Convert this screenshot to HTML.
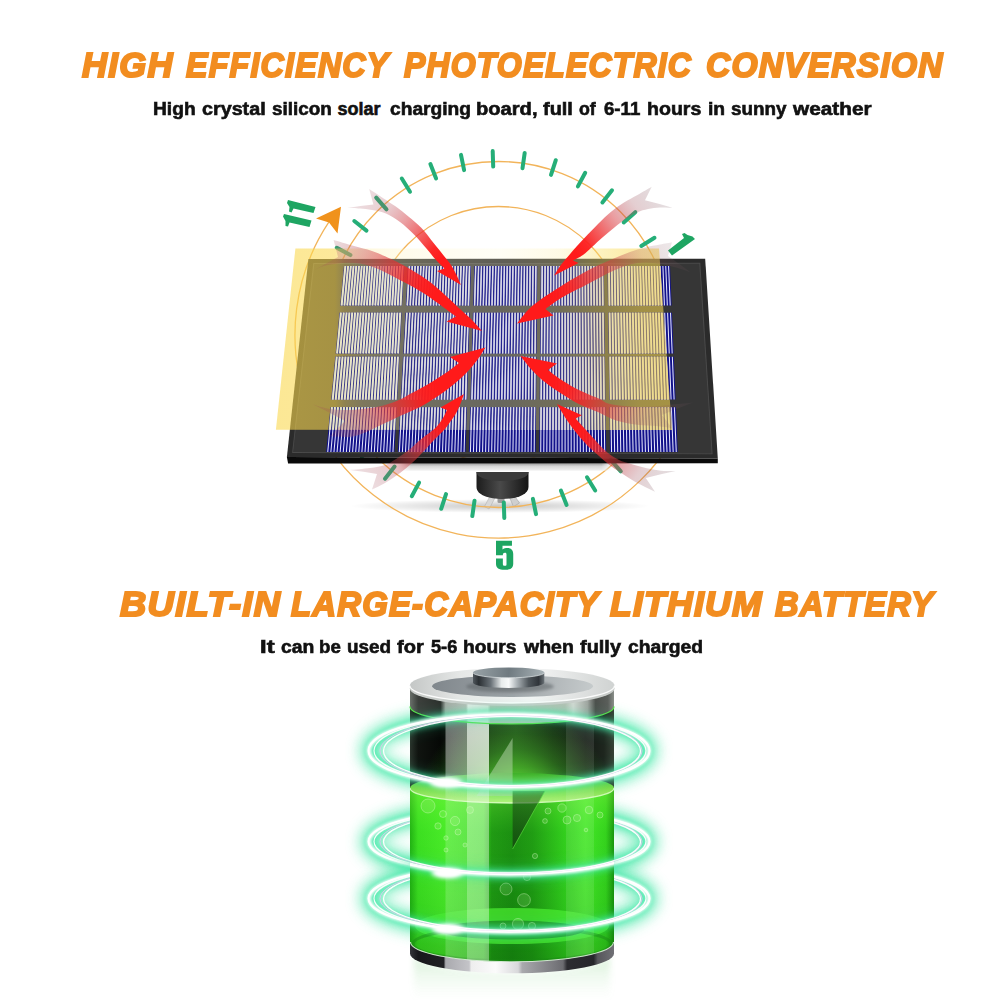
<!DOCTYPE html>
<html><head><meta charset="utf-8"><title>Solar</title>
<style>
html,body{margin:0;padding:0;background:#fff;}
body{width:1000px;height:1000px;position:relative;overflow:hidden;font-family:"Liberation Sans",sans-serif;}
.w{position:absolute;white-space:nowrap;transform-origin:0 0;line-height:normal;display:block;}
svg{position:absolute;left:0;top:0;}
</style></head><body>
<svg width="1000" height="1000" viewBox="0 0 1000 1000">
<defs>
<linearGradient id="yg" x1="276" y1="0" x2="672" y2="0" gradientUnits="userSpaceOnUse">
<stop offset="0" stop-color="#FAD84E" stop-opacity="0.6"/>
<stop offset="0.149" stop-color="#FAD84E" stop-opacity="0.57"/>
<stop offset="0.174" stop-color="#FBDF70" stop-opacity="0.45"/>
<stop offset="0.22" stop-color="#FDEBA0" stop-opacity="0.36"/>
<stop offset="0.313" stop-color="#FFF5BE" stop-opacity="0.31"/>
<stop offset="0.45" stop-color="#FFF8D0" stop-opacity="0.27"/>
<stop offset="0.566" stop-color="#FFFAD7" stop-opacity="0.25"/>
<stop offset="0.717" stop-color="#FDEFA8" stop-opacity="0.3"/>
<stop offset="0.818" stop-color="#FAE068" stop-opacity="0.42"/>
<stop offset="0.919" stop-color="#FAD955" stop-opacity="0.55"/>
<stop offset="1" stop-color="#FAD84E" stop-opacity="0.57"/>
</linearGradient>
<linearGradient id="ygB" x1="276" y1="0" x2="672" y2="0" gradientUnits="userSpaceOnUse">
<stop offset="0.15" stop-color="#E8E47E" stop-opacity="0.22"/>
<stop offset="0.36" stop-color="#ECECA0" stop-opacity="0.13"/>
<stop offset="0.566" stop-color="#F4F4C8" stop-opacity="0.08"/>
<stop offset="0.717" stop-color="#F6EA98" stop-opacity="0.16"/>
<stop offset="0.818" stop-color="#FAE068" stop-opacity="0.36"/>
<stop offset="0.919" stop-color="#FADA58" stop-opacity="0.54"/>
<stop offset="1" stop-color="#FAD84E" stop-opacity="0.57"/>
</linearGradient>
<radialGradient id="shad" cx="0.5" cy="0.5" r="0.5">
<stop offset="0" stop-color="#000" stop-opacity="0.22"/>
<stop offset="1" stop-color="#000" stop-opacity="0"/>
</radialGradient>
<linearGradient id="mountg" x1="0" y1="0" x2="1" y2="0">
<stop offset="0" stop-color="#1c1c1c"/>
<stop offset="0.45" stop-color="#4a4a4a"/>
<stop offset="1" stop-color="#141414"/>
</linearGradient>
<linearGradient id="barg" x1="0" y1="0" x2="0" y2="1">
<stop offset="0" stop-color="#9a9a9a"/>
<stop offset="0.4" stop-color="#d6d6d6"/>
<stop offset="1" stop-color="#f2f2f2"/>
</linearGradient>
<linearGradient id="barfade" x1="398" x2="612" y1="0" y2="0" gradientUnits="userSpaceOnUse">
<stop offset="0" stop-color="#000"/><stop offset="0.06" stop-color="#fff"/><stop offset="0.95" stop-color="#fff"/><stop offset="1" stop-color="#000"/>
</linearGradient>
<mask id="barmask" maskUnits="userSpaceOnUse" x="390" y="460" width="230" height="14"><rect x="390" y="460" width="230" height="14" fill="url(#barfade)"/></mask>
<clipPath id="litclip"><polygon points="295.4,248.5 659,248.5 672,430 275.9,429.8"/></clipPath>

</defs>
<g id="mount">
<!-- ground shadow -->
<ellipse cx="500" cy="506" rx="150" ry="7" fill="url(#shad)"/>
<!-- screws -->
<polygon points="489.5,497 495,498 489,509 484.5,506.5" fill="#d8d8d8" stroke="#aaa" stroke-width="0.5"/>
<rect x="497.5" y="497" width="7" height="6" rx="1.5" fill="#9a9a9a"/>
<polygon points="509.5,497.5 515,496.5 519.5,503 513.5,506.5" fill="#cfcfcf" stroke="#999" stroke-width="0.5"/>
<!-- mount body -->
<path d="M476.5,472 H528.5 V487 C528.5,495 516,499 502.5,499 C489,499 476.5,495 476.5,487 Z" fill="url(#mountg)"/>
<path d="M476.5,472 H528.5 C528.5,478 516,481 502.5,481 C489,481 476.5,478 476.5,472 Z" fill="#3a3a3a"/>

</g>
<g id="dial">
<circle cx="498.5" cy="334.5" r="128" fill="none" stroke="#F2B45A" stroke-width="1.3"/>
<circle cx="498.5" cy="334.5" r="173" fill="none" stroke="#F2B45A" stroke-width="1.3"/>
<path d="M698.9,299.2 A203.5,203.5 0 1 1 328.8,222.2" fill="none" stroke="#F2B45A" stroke-width="1.3"/>
<polygon points="341,206.8 316,218.5 329,222.5 337.5,233.5" fill="#F0921C"/>
<line x1="522.5" y1="168.2" x2="524.7" y2="152.9" stroke="#25AE78" stroke-width="4" stroke-linecap="round"/>
<line x1="551.0" y1="174.9" x2="555.8" y2="160.2" stroke="#25AE78" stroke-width="4" stroke-linecap="round"/>
<line x1="577.9" y1="186.4" x2="585.2" y2="172.8" stroke="#25AE78" stroke-width="4" stroke-linecap="round"/>
<line x1="602.4" y1="202.5" x2="612.0" y2="190.3" stroke="#25AE78" stroke-width="4" stroke-linecap="round"/>
<line x1="623.7" y1="222.5" x2="635.3" y2="212.2" stroke="#25AE78" stroke-width="4" stroke-linecap="round"/>
<line x1="641.3" y1="246.0" x2="654.5" y2="237.8" stroke="#25AE78" stroke-width="4" stroke-linecap="round"/>
<line x1="654.5" y1="272.1" x2="668.9" y2="266.4" stroke="#25AE78" stroke-width="4" stroke-linecap="round"/>
<line x1="662.9" y1="300.1" x2="678.1" y2="297.0" stroke="#25AE78" stroke-width="4" stroke-linecap="round"/>
<line x1="666.4" y1="329.2" x2="681.9" y2="328.7" stroke="#25AE78" stroke-width="4" stroke-linecap="round"/>
<line x1="664.8" y1="358.5" x2="680.1" y2="360.7" stroke="#25AE78" stroke-width="4" stroke-linecap="round"/>
<line x1="658.1" y1="387.0" x2="672.8" y2="391.8" stroke="#25AE78" stroke-width="4" stroke-linecap="round"/>
<line x1="646.6" y1="413.9" x2="660.2" y2="421.2" stroke="#25AE78" stroke-width="4" stroke-linecap="round"/>
<line x1="630.5" y1="438.4" x2="642.7" y2="448.0" stroke="#25AE78" stroke-width="4" stroke-linecap="round"/>
<line x1="610.5" y1="459.7" x2="620.8" y2="471.3" stroke="#25AE78" stroke-width="4" stroke-linecap="round"/>
<line x1="587.0" y1="477.3" x2="595.2" y2="490.5" stroke="#25AE78" stroke-width="4" stroke-linecap="round"/>
<line x1="560.9" y1="490.5" x2="566.6" y2="504.9" stroke="#25AE78" stroke-width="4" stroke-linecap="round"/>
<line x1="532.9" y1="498.9" x2="536.0" y2="514.1" stroke="#25AE78" stroke-width="4" stroke-linecap="round"/>
<line x1="503.8" y1="502.4" x2="504.3" y2="517.9" stroke="#25AE78" stroke-width="4" stroke-linecap="round"/>
<line x1="474.5" y1="500.8" x2="472.3" y2="516.1" stroke="#25AE78" stroke-width="4" stroke-linecap="round"/>
<line x1="446.0" y1="494.1" x2="441.2" y2="508.8" stroke="#25AE78" stroke-width="4" stroke-linecap="round"/>
<line x1="419.1" y1="482.6" x2="411.8" y2="496.2" stroke="#25AE78" stroke-width="4" stroke-linecap="round"/>
<line x1="394.6" y1="466.5" x2="385.0" y2="478.7" stroke="#25AE78" stroke-width="4" stroke-linecap="round"/>
<line x1="373.3" y1="446.5" x2="361.7" y2="456.8" stroke="#25AE78" stroke-width="4" stroke-linecap="round"/>
<line x1="355.7" y1="423.0" x2="342.5" y2="431.2" stroke="#25AE78" stroke-width="4" stroke-linecap="round"/>
<line x1="342.5" y1="396.9" x2="328.1" y2="402.6" stroke="#25AE78" stroke-width="4" stroke-linecap="round"/>
<line x1="334.1" y1="368.9" x2="318.9" y2="372.0" stroke="#25AE78" stroke-width="4" stroke-linecap="round"/>
<line x1="330.6" y1="339.8" x2="315.1" y2="340.3" stroke="#25AE78" stroke-width="4" stroke-linecap="round"/>
<line x1="332.2" y1="310.5" x2="316.9" y2="308.3" stroke="#25AE78" stroke-width="4" stroke-linecap="round"/>
<line x1="338.9" y1="282.0" x2="324.2" y2="277.2" stroke="#25AE78" stroke-width="4" stroke-linecap="round"/>
<line x1="350.4" y1="255.1" x2="336.8" y2="247.8" stroke="#25AE78" stroke-width="4" stroke-linecap="round"/>
<line x1="366.5" y1="230.6" x2="354.3" y2="221.0" stroke="#25AE78" stroke-width="4" stroke-linecap="round"/>
<line x1="386.5" y1="209.3" x2="376.2" y2="197.7" stroke="#25AE78" stroke-width="4" stroke-linecap="round"/>
<line x1="410.0" y1="191.7" x2="401.8" y2="178.5" stroke="#25AE78" stroke-width="4" stroke-linecap="round"/>
<line x1="436.1" y1="178.5" x2="430.4" y2="164.1" stroke="#25AE78" stroke-width="4" stroke-linecap="round"/>
<line x1="464.1" y1="170.1" x2="461.0" y2="154.9" stroke="#25AE78" stroke-width="4" stroke-linecap="round"/>
<line x1="493.2" y1="166.6" x2="492.7" y2="151.1" stroke="#25AE78" stroke-width="4" stroke-linecap="round"/>
</g>
<rect x="398" y="463.3" width="214" height="7.4" fill="url(#barg)" mask="url(#barmask)"/>
<g id="digits">
<path d="M0,0 H228 V70 H93 V125 C110,108 140,103 165,103 C215,103 246,135 246,190 V330 C246,385 210,415 125,415 C40,415 0,385 0,330 V253 H98 V330 C98,348 106,357 127,357 C148,357 150,348 150,330 V200 C150,180 145,172 127,172 C108,172 98,182 98,205 H0 Z" fill="#1EA562" transform="translate(496,540.8) scale(0.07)"/><polygon points="288,200 315.5,207 313.5,213 293.5,208.5 291.5,212.5 289,211.5 289.5,207 287,203" fill="#1EA562"/><polygon points="284,214 311.5,220.5 309.5,227 289.5,222.5 288,226.5 285.5,226 285.5,221 283,216.5" fill="#1EA562"/><polygon points="668,250.5 672,255.5 695,239 692.5,236.5 687.5,235 684.5,233 682,234 684,238" fill="#1EA562"/>
</g>
<g id="panel">
<polygon points="286.9,457.0 717.8,458.4 717.8,463.3 288.09999999999997,463.5" fill="#0a0a0a"/>
<polygon points="308.4,258.9 705.2,258.7 717.8,458.4 286.9,457.0" fill="#2b2b2b"/>
<polygon points="313.3,263.0 700.3,262.8 712.6,454.3 292.1,452.9" fill="#4a4a4a"/>
<polygon points="314.3,263.9 699.3,263.7 711.6,453.4 293.1,452.0" fill="#363636"/>
</g>
<polygon points="295.4,248.5 659,248.5 672,430 275.9,429.8" fill="url(#yg)"/>
<g id="cells">
<polygon points="344.00,266.00 404.00,266.00 401.99,305.40 340.23,305.40" fill="#11118a"/>
<polygon points="339.53,312.70 401.61,312.70 399.54,353.40 335.64,353.40" fill="#11118a"/>
<polygon points="335.31,356.80 399.36,356.80 397.18,399.60 331.21,399.60" fill="#11118a"/>
<polygon points="330.49,407.20 396.79,407.20 394.50,452.00 326.20,452.00" fill="#11118a"/>
<polygon points="408.00,266.00 471.00,266.00 469.86,305.40 405.84,305.40" fill="#11118a"/>
<polygon points="405.44,312.70 469.64,312.70 468.46,353.40 403.21,353.40" fill="#11118a"/>
<polygon points="403.02,356.80 468.36,356.80 467.12,399.60 400.67,399.60" fill="#11118a"/>
<polygon points="400.26,407.20 466.90,407.20 465.60,452.00 397.80,452.00" fill="#11118a"/>
<polygon points="474.30,266.00 537.30,266.00 536.96,305.40 473.16,305.40" fill="#11118a"/>
<polygon points="472.94,312.70 536.90,312.70 536.55,353.40 471.76,353.40" fill="#11118a"/>
<polygon points="471.66,356.80 536.52,356.80 536.15,399.60 470.42,399.60" fill="#11118a"/>
<polygon points="470.20,407.20 536.09,407.20 535.70,452.00 468.90,452.00" fill="#11118a"/>
<polygon points="540.80,266.00 603.80,266.00 604.31,305.40 540.46,305.40" fill="#11118a"/>
<polygon points="540.40,312.70 604.40,312.70 604.93,353.40 540.05,353.40" fill="#11118a"/>
<polygon points="540.02,356.80 604.97,356.80 605.52,399.60 539.65,399.60" fill="#11118a"/>
<polygon points="539.59,407.20 605.62,407.20 606.20,452.00 539.20,452.00" fill="#11118a"/>
<polygon points="607.50,266.00 670.00,266.00 671.65,305.40 608.03,305.40" fill="#11118a"/>
<polygon points="608.13,312.70 671.96,312.70 673.67,353.40 608.67,353.40" fill="#11118a"/>
<polygon points="608.72,356.80 673.81,356.80 675.60,399.60 609.30,399.60" fill="#11118a"/>
<polygon points="609.40,407.20 675.92,407.20 677.80,452.00 610.00,452.00" fill="#11118a"/>
<path d="M345.36,266L341.63,305.4M340.94,312.7L337.09,353.4M336.77,356.8L332.71,399.6M331.99,407.2L327.75,452M348.09,266L344.44,305.4M343.76,312.7L339.99,353.4M339.68,356.8L335.71,399.6M335.01,407.2L330.86,452M350.82,266L347.25,305.4M346.59,312.7L342.90,353.4M342.59,356.8L338.71,399.6M338.02,407.2L333.96,452M353.55,266L350.05,305.4M349.41,312.7L345.80,353.4M345.50,356.8L341.71,399.6M341.04,407.2L337.07,452M356.27,266L352.86,305.4M352.23,312.7L348.71,353.4M348.41,356.8L344.71,399.6M344.05,407.2L340.17,452M359.00,266L355.67,305.4M355.05,312.7L351.61,353.4M351.32,356.8L347.71,399.6M347.06,407.2L343.27,452M361.73,266L358.48,305.4M357.87,312.7L354.52,353.4M354.23,356.8L350.70,399.6M350.08,407.2L346.38,452M364.45,266L361.28,305.4M360.70,312.7L357.42,353.4M357.15,356.8L353.70,399.6M353.09,407.2L349.48,452M367.18,266L364.09,305.4M363.52,312.7L360.32,353.4M360.06,356.8L356.70,399.6M356.10,407.2L352.59,452M369.91,266L366.90,305.4M366.34,312.7L363.23,353.4M362.97,356.8L359.70,399.6M359.12,407.2L355.69,452M372.64,266L369.70,305.4M369.16,312.7L366.13,353.4M365.88,356.8L362.70,399.6M362.13,407.2L358.80,452M375.36,266L372.51,305.4M371.98,312.7L369.04,353.4M368.79,356.8L365.69,399.6M365.14,407.2L361.90,452M378.09,266L375.32,305.4M374.81,312.7L371.94,353.4M371.70,356.8L368.69,399.6M368.16,407.2L365.01,452M380.82,266L378.13,305.4M377.63,312.7L374.85,353.4M374.62,356.8L371.69,399.6M371.17,407.2L368.11,452M383.55,266L380.93,305.4M380.45,312.7L377.75,353.4M377.53,356.8L374.69,399.6M374.19,407.2L371.22,452M386.27,266L383.74,305.4M383.27,312.7L380.66,353.4M380.44,356.8L377.69,399.6M377.20,407.2L374.32,452M389.00,266L386.55,305.4M386.09,312.7L383.56,353.4M383.35,356.8L380.69,399.6M380.21,407.2L377.43,452M391.73,266L389.36,305.4M388.92,312.7L386.47,353.4M386.26,356.8L383.68,399.6M383.23,407.2L380.53,452M394.45,266L392.16,305.4M391.74,312.7L389.37,353.4M389.17,356.8L386.68,399.6M386.24,407.2L383.63,452M397.18,266L394.97,305.4M394.56,312.7L392.27,353.4M392.08,356.8L389.68,399.6M389.25,407.2L386.74,452M399.91,266L397.78,305.4M397.38,312.7L395.18,353.4M395.00,356.8L392.68,399.6M392.27,407.2L389.84,452M402.64,266L400.58,305.4M400.20,312.7L398.08,353.4M397.91,356.8L395.68,399.6M395.28,407.2L392.95,452M409.43,266L407.29,305.4M406.90,312.7L404.69,353.4M404.51,356.8L402.18,399.6M401.77,407.2L399.34,452M412.30,266L410.20,305.4M409.82,312.7L407.66,353.4M407.48,356.8L405.20,399.6M404.80,407.2L402.42,452M415.16,266L413.11,305.4M412.74,312.7L410.62,353.4M410.45,356.8L408.22,399.6M407.83,407.2L405.50,452M418.02,266L416.02,305.4M415.65,312.7L413.59,353.4M413.42,356.8L411.24,399.6M410.86,407.2L408.59,452M420.89,266L418.93,305.4M418.57,312.7L416.55,353.4M416.39,356.8L414.27,399.6M413.89,407.2L411.67,452M423.75,266L421.84,305.4M421.49,312.7L419.52,353.4M419.36,356.8L417.29,399.6M416.92,407.2L414.75,452M426.61,266L424.75,305.4M424.41,312.7L422.49,353.4M422.33,356.8L420.31,399.6M419.95,407.2L417.83,452M429.48,266L427.66,305.4M427.33,312.7L425.45,353.4M425.30,356.8L423.33,399.6M422.98,407.2L420.91,452M432.34,266L430.57,305.4M430.25,312.7L428.42,353.4M428.27,356.8L426.35,399.6M426.01,407.2L424.00,452M435.20,266L433.48,305.4M433.16,312.7L431.39,353.4M431.24,356.8L429.37,399.6M429.03,407.2L427.08,452M438.07,266L436.39,305.4M436.08,312.7L434.35,353.4M434.21,356.8L432.39,399.6M432.06,407.2L430.16,452M440.93,266L439.30,305.4M439.00,312.7L437.32,353.4M437.18,356.8L435.41,399.6M435.09,407.2L433.24,452M443.80,266L442.21,305.4M441.92,312.7L440.28,353.4M440.15,356.8L438.43,399.6M438.12,407.2L436.32,452M446.66,266L445.12,305.4M444.84,312.7L443.25,353.4M443.12,356.8L441.45,399.6M441.15,407.2L439.40,452M449.52,266L448.03,305.4M447.76,312.7L446.22,353.4M446.09,356.8L444.47,399.6M444.18,407.2L442.49,452M452.39,266L450.94,305.4M450.67,312.7L449.18,353.4M449.06,356.8L447.49,399.6M447.21,407.2L445.57,452M455.25,266L453.85,305.4M453.59,312.7L452.15,353.4M452.03,356.8L450.51,399.6M450.24,407.2L448.65,452M458.11,266L456.76,305.4M456.51,312.7L455.11,353.4M455.00,356.8L453.53,399.6M453.27,407.2L451.73,452M460.98,266L459.67,305.4M459.43,312.7L458.08,353.4M457.97,356.8L456.55,399.6M456.30,407.2L454.81,452M463.84,266L462.58,305.4M462.35,312.7L461.05,353.4M460.94,356.8L459.57,399.6M459.33,407.2L457.90,452M466.70,266L465.49,305.4M465.27,312.7L464.01,353.4M463.91,356.8L462.59,399.6M462.36,407.2L460.98,452M469.57,266L468.40,305.4M468.18,312.7L466.98,353.4M466.88,356.8L465.61,399.6M465.39,407.2L464.06,452M475.73,266L474.61,305.4M474.40,312.7L473.23,353.4M473.14,356.8L471.92,399.6M471.70,407.2L470.42,452M478.60,266L477.51,305.4M477.30,312.7L476.18,353.4M476.09,356.8L474.90,399.6M474.69,407.2L473.45,452M481.46,266L480.41,305.4M480.21,312.7L479.12,353.4M479.03,356.8L477.89,399.6M477.69,407.2L476.49,452M484.32,266L483.31,305.4M483.12,312.7L482.07,353.4M481.98,356.8L480.88,399.6M480.68,407.2L479.53,452M487.19,266L486.21,305.4M486.03,312.7L485.01,353.4M484.93,356.8L483.87,399.6M483.68,407.2L482.56,452M490.05,266L489.11,305.4M488.93,312.7L487.96,353.4M487.88,356.8L486.85,399.6M486.67,407.2L485.60,452M492.91,266L492.01,305.4M491.84,312.7L490.90,353.4M490.83,356.8L489.84,399.6M489.67,407.2L488.64,452M495.78,266L494.91,305.4M494.75,312.7L493.85,353.4M493.77,356.8L492.83,399.6M492.66,407.2L491.67,452M498.64,266L497.81,305.4M497.65,312.7L496.79,353.4M496.72,356.8L495.82,399.6M495.66,407.2L494.71,452M501.50,266L500.71,305.4M500.56,312.7L499.74,353.4M499.67,356.8L498.80,399.6M498.65,407.2L497.75,452M504.37,266L503.61,305.4M503.47,312.7L502.68,353.4M502.62,356.8L501.79,399.6M501.65,407.2L500.78,452M507.23,266L506.51,305.4M506.37,312.7L505.63,353.4M505.57,356.8L504.78,399.6M504.64,407.2L503.82,452M510.10,266L509.41,305.4M509.28,312.7L508.57,353.4M508.51,356.8L507.77,399.6M507.64,407.2L506.85,452M512.96,266L512.31,305.4M512.19,312.7L511.52,353.4M511.46,356.8L510.76,399.6M510.63,407.2L509.89,452M515.82,266L515.21,305.4M515.10,312.7L514.46,353.4M514.41,356.8L513.74,399.6M513.62,407.2L512.93,452M518.69,266L518.11,305.4M518.00,312.7L517.41,353.4M517.36,356.8L516.73,399.6M516.62,407.2L515.96,452M521.55,266L521.01,305.4M520.91,312.7L520.35,353.4M520.31,356.8L519.72,399.6M519.61,407.2L519.00,452M524.41,266L523.91,305.4M523.82,312.7L523.30,353.4M523.25,356.8L522.71,399.6M522.61,407.2L522.04,452M527.28,266L526.81,305.4M526.72,312.7L526.24,353.4M526.20,356.8L525.69,399.6M525.60,407.2L525.07,452M530.14,266L529.71,305.4M529.63,312.7L529.19,353.4M529.15,356.8L528.68,399.6M528.60,407.2L528.11,452M533.00,266L532.61,305.4M532.54,312.7L532.13,353.4M532.10,356.8L531.67,399.6M531.59,407.2L531.15,452M535.87,266L535.51,305.4M535.44,312.7L535.08,353.4M535.04,356.8L534.66,399.6M534.59,407.2L534.18,452M542.23,266L541.91,305.4M541.85,312.7L541.52,353.4M541.50,356.8L541.15,399.6M541.09,407.2L540.72,452M545.10,266L544.81,305.4M544.76,312.7L544.47,353.4M544.45,356.8L544.14,399.6M544.09,407.2L543.77,452M547.96,266L547.72,305.4M547.67,312.7L547.42,353.4M547.40,356.8L547.14,399.6M547.09,407.2L546.81,452M550.82,266L550.62,305.4M550.58,312.7L550.37,353.4M550.35,356.8L550.13,399.6M550.09,407.2L549.86,452M553.69,266L553.52,305.4M553.49,312.7L553.32,353.4M553.30,356.8L553.12,399.6M553.09,407.2L552.90,452M556.55,266L556.42,305.4M556.40,312.7L556.27,353.4M556.26,356.8L556.12,399.6M556.09,407.2L555.95,452M559.41,266L559.33,305.4M559.31,312.7L559.22,353.4M559.21,356.8L559.11,399.6M559.10,407.2L559.00,452M562.28,266L562.23,305.4M562.22,312.7L562.17,353.4M562.16,356.8L562.11,399.6M562.10,407.2L562.04,452M565.14,266L565.13,305.4M565.13,312.7L565.12,353.4M565.11,356.8L565.10,399.6M565.10,407.2L565.09,452M568.00,266L568.03,305.4M568.04,312.7L568.06,353.4M568.07,356.8L568.10,399.6M568.10,407.2L568.13,452M570.87,266L570.93,305.4M570.95,312.7L571.01,353.4M571.02,356.8L571.09,399.6M571.10,407.2L571.18,452M573.73,266L573.84,305.4M573.86,312.7L573.96,353.4M573.97,356.8L574.08,399.6M574.10,407.2L574.22,452M576.60,266L576.74,305.4M576.76,312.7L576.91,353.4M576.92,356.8L577.08,399.6M577.11,407.2L577.27,452M579.46,266L579.64,305.4M579.67,312.7L579.86,353.4M579.88,356.8L580.07,399.6M580.11,407.2L580.31,452M582.32,266L582.54,305.4M582.58,312.7L582.81,353.4M582.83,356.8L583.07,399.6M583.11,407.2L583.36,452M585.19,266L585.44,305.4M585.49,312.7L585.76,353.4M585.78,356.8L586.06,399.6M586.11,407.2L586.40,452M588.05,266L588.35,305.4M588.40,312.7L588.71,353.4M588.73,356.8L589.06,399.6M589.11,407.2L589.45,452M590.91,266L591.25,305.4M591.31,312.7L591.66,353.4M591.69,356.8L592.05,399.6M592.11,407.2L592.50,452M593.78,266L594.15,305.4M594.22,312.7L594.61,353.4M594.64,356.8L595.04,399.6M595.12,407.2L595.54,452M596.64,266L597.05,305.4M597.13,312.7L597.56,353.4M597.59,356.8L598.04,399.6M598.12,407.2L598.59,452M599.50,266L599.96,305.4M600.04,312.7L600.50,353.4M600.54,356.8L601.03,399.6M601.12,407.2L601.63,452M602.37,266L602.86,305.4M602.95,312.7L603.45,353.4M603.50,356.8L604.03,399.6M604.12,407.2L604.68,452M608.92,266L609.48,305.4M609.58,312.7L610.15,353.4M610.20,356.8L610.80,399.6M610.91,407.2L611.54,452M611.76,266L612.37,305.4M612.48,312.7L613.11,353.4M613.16,356.8L613.82,399.6M613.93,407.2L614.62,452M614.60,266L615.26,305.4M615.38,312.7L616.06,353.4M616.12,356.8L616.83,399.6M616.96,407.2L617.70,452M617.44,266L618.15,305.4M618.28,312.7L619.01,353.4M619.08,356.8L619.84,399.6M619.98,407.2L620.79,452M620.28,266L621.04,305.4M621.18,312.7L621.97,353.4M622.03,356.8L622.86,399.6M623.00,407.2L623.87,452M623.12,266L623.94,305.4M624.09,312.7L624.92,353.4M624.99,356.8L625.87,399.6M626.03,407.2L626.95,452M625.97,266L626.83,305.4M626.99,312.7L627.88,353.4M627.95,356.8L628.89,399.6M629.05,407.2L630.03,452M628.81,266L629.72,305.4M629.89,312.7L630.83,353.4M630.91,356.8L631.90,399.6M632.08,407.2L633.11,452M631.65,266L632.61,305.4M632.79,312.7L633.78,353.4M633.87,356.8L634.91,399.6M635.10,407.2L636.20,452M634.49,266L635.50,305.4M635.69,312.7L636.74,353.4M636.83,356.8L637.93,399.6M638.12,407.2L639.28,452M637.33,266L638.39,305.4M638.59,312.7L639.69,353.4M639.78,356.8L640.94,399.6M641.15,407.2L642.36,452M640.17,266L641.29,305.4M641.49,312.7L642.65,353.4M642.74,356.8L643.96,399.6M644.17,407.2L645.44,452M643.01,266L644.18,305.4M644.40,312.7L645.60,353.4M645.70,356.8L646.97,399.6M647.20,407.2L648.52,452M645.85,266L647.07,305.4M647.30,312.7L648.56,353.4M648.66,356.8L649.98,399.6M650.22,407.2L651.60,452M648.69,266L649.96,305.4M650.20,312.7L651.51,353.4M651.62,356.8L653.00,399.6M653.24,407.2L654.69,452M651.53,266L652.85,305.4M653.10,312.7L654.46,353.4M654.58,356.8L656.01,399.6M656.27,407.2L657.77,452M654.38,266L655.75,305.4M656.00,312.7L657.42,353.4M657.54,356.8L659.03,399.6M659.29,407.2L660.85,452M657.22,266L658.64,305.4M658.90,312.7L660.37,353.4M660.49,356.8L662.04,399.6M662.31,407.2L663.93,452M660.06,266L661.53,305.4M661.80,312.7L663.33,353.4M663.45,356.8L665.05,399.6M665.34,407.2L667.01,452M662.90,266L664.42,305.4M664.70,312.7L666.28,353.4M666.41,356.8L668.07,399.6M668.36,407.2L670.10,452M665.74,266L667.31,305.4M667.61,312.7L669.23,353.4M669.37,356.8L671.08,399.6M671.39,407.2L673.18,452M668.58,266L670.21,305.4M670.51,312.7L672.19,353.4M672.33,356.8L674.10,399.6M674.41,407.2L676.26,452" stroke="#e4e5fb" stroke-width="1.05" fill="none"/>
<path d="M345.36,266L341.63,305.4M340.94,312.7L337.09,353.4M336.77,356.8L332.71,399.6M331.99,407.2L327.75,452M348.09,266L344.44,305.4M343.76,312.7L339.99,353.4M339.68,356.8L335.71,399.6M335.01,407.2L330.86,452M350.82,266L347.25,305.4M346.59,312.7L342.90,353.4M342.59,356.8L338.71,399.6M338.02,407.2L333.96,452M353.55,266L350.05,305.4M349.41,312.7L345.80,353.4M345.50,356.8L341.71,399.6M341.04,407.2L337.07,452M356.27,266L352.86,305.4M352.23,312.7L348.71,353.4M348.41,356.8L344.71,399.6M344.05,407.2L340.17,452M359.00,266L355.67,305.4M355.05,312.7L351.61,353.4M351.32,356.8L347.71,399.6M347.06,407.2L343.27,452M361.73,266L358.48,305.4M357.87,312.7L354.52,353.4M354.23,356.8L350.70,399.6M350.08,407.2L346.38,452M364.45,266L361.28,305.4M360.70,312.7L357.42,353.4M357.15,356.8L353.70,399.6M353.09,407.2L349.48,452M367.18,266L364.09,305.4M363.52,312.7L360.32,353.4M360.06,356.8L356.70,399.6M356.10,407.2L352.59,452M369.91,266L366.90,305.4M366.34,312.7L363.23,353.4M362.97,356.8L359.70,399.6M359.12,407.2L355.69,452M372.64,266L369.70,305.4M369.16,312.7L366.13,353.4M365.88,356.8L362.70,399.6M362.13,407.2L358.80,452M375.36,266L372.51,305.4M371.98,312.7L369.04,353.4M368.79,356.8L365.69,399.6M365.14,407.2L361.90,452M378.09,266L375.32,305.4M374.81,312.7L371.94,353.4M371.70,356.8L368.69,399.6M368.16,407.2L365.01,452M380.82,266L378.13,305.4M377.63,312.7L374.85,353.4M374.62,356.8L371.69,399.6M371.17,407.2L368.11,452M383.55,266L380.93,305.4M380.45,312.7L377.75,353.4M377.53,356.8L374.69,399.6M374.19,407.2L371.22,452M386.27,266L383.74,305.4M383.27,312.7L380.66,353.4M380.44,356.8L377.69,399.6M377.20,407.2L374.32,452M389.00,266L386.55,305.4M386.09,312.7L383.56,353.4M383.35,356.8L380.69,399.6M380.21,407.2L377.43,452M391.73,266L389.36,305.4M388.92,312.7L386.47,353.4M386.26,356.8L383.68,399.6M383.23,407.2L380.53,452M394.45,266L392.16,305.4M391.74,312.7L389.37,353.4M389.17,356.8L386.68,399.6M386.24,407.2L383.63,452M397.18,266L394.97,305.4M394.56,312.7L392.27,353.4M392.08,356.8L389.68,399.6M389.25,407.2L386.74,452M399.91,266L397.78,305.4M397.38,312.7L395.18,353.4M395.00,356.8L392.68,399.6M392.27,407.2L389.84,452M402.64,266L400.58,305.4M400.20,312.7L398.08,353.4M397.91,356.8L395.68,399.6M395.28,407.2L392.95,452" stroke="#e8e5d8" stroke-width="1.95" fill="none" clip-path="url(#litclip)"/>
<path d="M409.43,266L407.29,305.4M406.90,312.7L404.69,353.4M404.51,356.8L402.18,399.6M401.77,407.2L399.34,452M412.30,266L410.20,305.4M409.82,312.7L407.66,353.4M407.48,356.8L405.20,399.6M404.80,407.2L402.42,452M415.16,266L413.11,305.4M412.74,312.7L410.62,353.4M410.45,356.8L408.22,399.6M407.83,407.2L405.50,452M418.02,266L416.02,305.4M415.65,312.7L413.59,353.4M413.42,356.8L411.24,399.6M410.86,407.2L408.59,452M420.89,266L418.93,305.4M418.57,312.7L416.55,353.4M416.39,356.8L414.27,399.6M413.89,407.2L411.67,452M423.75,266L421.84,305.4M421.49,312.7L419.52,353.4M419.36,356.8L417.29,399.6M416.92,407.2L414.75,452M426.61,266L424.75,305.4M424.41,312.7L422.49,353.4M422.33,356.8L420.31,399.6M419.95,407.2L417.83,452M429.48,266L427.66,305.4M427.33,312.7L425.45,353.4M425.30,356.8L423.33,399.6M422.98,407.2L420.91,452M432.34,266L430.57,305.4M430.25,312.7L428.42,353.4M428.27,356.8L426.35,399.6M426.01,407.2L424.00,452M435.20,266L433.48,305.4M433.16,312.7L431.39,353.4M431.24,356.8L429.37,399.6M429.03,407.2L427.08,452M438.07,266L436.39,305.4M436.08,312.7L434.35,353.4M434.21,356.8L432.39,399.6M432.06,407.2L430.16,452M440.93,266L439.30,305.4M439.00,312.7L437.32,353.4M437.18,356.8L435.41,399.6M435.09,407.2L433.24,452M443.80,266L442.21,305.4M441.92,312.7L440.28,353.4M440.15,356.8L438.43,399.6M438.12,407.2L436.32,452M446.66,266L445.12,305.4M444.84,312.7L443.25,353.4M443.12,356.8L441.45,399.6M441.15,407.2L439.40,452M449.52,266L448.03,305.4M447.76,312.7L446.22,353.4M446.09,356.8L444.47,399.6M444.18,407.2L442.49,452M452.39,266L450.94,305.4M450.67,312.7L449.18,353.4M449.06,356.8L447.49,399.6M447.21,407.2L445.57,452M455.25,266L453.85,305.4M453.59,312.7L452.15,353.4M452.03,356.8L450.51,399.6M450.24,407.2L448.65,452M458.11,266L456.76,305.4M456.51,312.7L455.11,353.4M455.00,356.8L453.53,399.6M453.27,407.2L451.73,452M460.98,266L459.67,305.4M459.43,312.7L458.08,353.4M457.97,356.8L456.55,399.6M456.30,407.2L454.81,452M463.84,266L462.58,305.4M462.35,312.7L461.05,353.4M460.94,356.8L459.57,399.6M459.33,407.2L457.90,452M466.70,266L465.49,305.4M465.27,312.7L464.01,353.4M463.91,356.8L462.59,399.6M462.36,407.2L460.98,452M469.57,266L468.40,305.4M468.18,312.7L466.98,353.4M466.88,356.8L465.61,399.6M465.39,407.2L464.06,452" stroke="#dedde6" stroke-width="1.6" fill="none" clip-path="url(#litclip)"/>
<path d="M475.73,266L474.61,305.4M474.40,312.7L473.23,353.4M473.14,356.8L471.92,399.6M471.70,407.2L470.42,452M478.60,266L477.51,305.4M477.30,312.7L476.18,353.4M476.09,356.8L474.90,399.6M474.69,407.2L473.45,452M481.46,266L480.41,305.4M480.21,312.7L479.12,353.4M479.03,356.8L477.89,399.6M477.69,407.2L476.49,452M484.32,266L483.31,305.4M483.12,312.7L482.07,353.4M481.98,356.8L480.88,399.6M480.68,407.2L479.53,452M487.19,266L486.21,305.4M486.03,312.7L485.01,353.4M484.93,356.8L483.87,399.6M483.68,407.2L482.56,452M490.05,266L489.11,305.4M488.93,312.7L487.96,353.4M487.88,356.8L486.85,399.6M486.67,407.2L485.60,452M492.91,266L492.01,305.4M491.84,312.7L490.90,353.4M490.83,356.8L489.84,399.6M489.67,407.2L488.64,452M495.78,266L494.91,305.4M494.75,312.7L493.85,353.4M493.77,356.8L492.83,399.6M492.66,407.2L491.67,452M498.64,266L497.81,305.4M497.65,312.7L496.79,353.4M496.72,356.8L495.82,399.6M495.66,407.2L494.71,452M501.50,266L500.71,305.4M500.56,312.7L499.74,353.4M499.67,356.8L498.80,399.6M498.65,407.2L497.75,452M504.37,266L503.61,305.4M503.47,312.7L502.68,353.4M502.62,356.8L501.79,399.6M501.65,407.2L500.78,452M507.23,266L506.51,305.4M506.37,312.7L505.63,353.4M505.57,356.8L504.78,399.6M504.64,407.2L503.82,452M510.10,266L509.41,305.4M509.28,312.7L508.57,353.4M508.51,356.8L507.77,399.6M507.64,407.2L506.85,452M512.96,266L512.31,305.4M512.19,312.7L511.52,353.4M511.46,356.8L510.76,399.6M510.63,407.2L509.89,452M515.82,266L515.21,305.4M515.10,312.7L514.46,353.4M514.41,356.8L513.74,399.6M513.62,407.2L512.93,452M518.69,266L518.11,305.4M518.00,312.7L517.41,353.4M517.36,356.8L516.73,399.6M516.62,407.2L515.96,452M521.55,266L521.01,305.4M520.91,312.7L520.35,353.4M520.31,356.8L519.72,399.6M519.61,407.2L519.00,452M524.41,266L523.91,305.4M523.82,312.7L523.30,353.4M523.25,356.8L522.71,399.6M522.61,407.2L522.04,452M527.28,266L526.81,305.4M526.72,312.7L526.24,353.4M526.20,356.8L525.69,399.6M525.60,407.2L525.07,452M530.14,266L529.71,305.4M529.63,312.7L529.19,353.4M529.15,356.8L528.68,399.6M528.60,407.2L528.11,452M533.00,266L532.61,305.4M532.54,312.7L532.13,353.4M532.10,356.8L531.67,399.6M531.59,407.2L531.15,452M535.87,266L535.51,305.4M535.44,312.7L535.08,353.4M535.04,356.8L534.66,399.6M534.59,407.2L534.18,452" stroke="#d8d8ea" stroke-width="1.4" fill="none" clip-path="url(#litclip)"/>
<path d="M542.23,266L541.91,305.4M541.85,312.7L541.52,353.4M541.50,356.8L541.15,399.6M541.09,407.2L540.72,452M545.10,266L544.81,305.4M544.76,312.7L544.47,353.4M544.45,356.8L544.14,399.6M544.09,407.2L543.77,452M547.96,266L547.72,305.4M547.67,312.7L547.42,353.4M547.40,356.8L547.14,399.6M547.09,407.2L546.81,452M550.82,266L550.62,305.4M550.58,312.7L550.37,353.4M550.35,356.8L550.13,399.6M550.09,407.2L549.86,452M553.69,266L553.52,305.4M553.49,312.7L553.32,353.4M553.30,356.8L553.12,399.6M553.09,407.2L552.90,452M556.55,266L556.42,305.4M556.40,312.7L556.27,353.4M556.26,356.8L556.12,399.6M556.09,407.2L555.95,452M559.41,266L559.33,305.4M559.31,312.7L559.22,353.4M559.21,356.8L559.11,399.6M559.10,407.2L559.00,452M562.28,266L562.23,305.4M562.22,312.7L562.17,353.4M562.16,356.8L562.11,399.6M562.10,407.2L562.04,452M565.14,266L565.13,305.4M565.13,312.7L565.12,353.4M565.11,356.8L565.10,399.6M565.10,407.2L565.09,452M568.00,266L568.03,305.4M568.04,312.7L568.06,353.4M568.07,356.8L568.10,399.6M568.10,407.2L568.13,452M570.87,266L570.93,305.4M570.95,312.7L571.01,353.4M571.02,356.8L571.09,399.6M571.10,407.2L571.18,452M573.73,266L573.84,305.4M573.86,312.7L573.96,353.4M573.97,356.8L574.08,399.6M574.10,407.2L574.22,452M576.60,266L576.74,305.4M576.76,312.7L576.91,353.4M576.92,356.8L577.08,399.6M577.11,407.2L577.27,452M579.46,266L579.64,305.4M579.67,312.7L579.86,353.4M579.88,356.8L580.07,399.6M580.11,407.2L580.31,452M582.32,266L582.54,305.4M582.58,312.7L582.81,353.4M582.83,356.8L583.07,399.6M583.11,407.2L583.36,452M585.19,266L585.44,305.4M585.49,312.7L585.76,353.4M585.78,356.8L586.06,399.6M586.11,407.2L586.40,452M588.05,266L588.35,305.4M588.40,312.7L588.71,353.4M588.73,356.8L589.06,399.6M589.11,407.2L589.45,452M590.91,266L591.25,305.4M591.31,312.7L591.66,353.4M591.69,356.8L592.05,399.6M592.11,407.2L592.50,452M593.78,266L594.15,305.4M594.22,312.7L594.61,353.4M594.64,356.8L595.04,399.6M595.12,407.2L595.54,452M596.64,266L597.05,305.4M597.13,312.7L597.56,353.4M597.59,356.8L598.04,399.6M598.12,407.2L598.59,452M599.50,266L599.96,305.4M600.04,312.7L600.50,353.4M600.54,356.8L601.03,399.6M601.12,407.2L601.63,452M602.37,266L602.86,305.4M602.95,312.7L603.45,353.4M603.50,356.8L604.03,399.6M604.12,407.2L604.68,452" stroke="#dadaea" stroke-width="1.5" fill="none" clip-path="url(#litclip)"/>
<path d="M608.92,266L609.48,305.4M609.58,312.7L610.15,353.4M610.20,356.8L610.80,399.6M610.91,407.2L611.54,452M611.76,266L612.37,305.4M612.48,312.7L613.11,353.4M613.16,356.8L613.82,399.6M613.93,407.2L614.62,452M614.60,266L615.26,305.4M615.38,312.7L616.06,353.4M616.12,356.8L616.83,399.6M616.96,407.2L617.70,452M617.44,266L618.15,305.4M618.28,312.7L619.01,353.4M619.08,356.8L619.84,399.6M619.98,407.2L620.79,452M620.28,266L621.04,305.4M621.18,312.7L621.97,353.4M622.03,356.8L622.86,399.6M623.00,407.2L623.87,452M623.12,266L623.94,305.4M624.09,312.7L624.92,353.4M624.99,356.8L625.87,399.6M626.03,407.2L626.95,452M625.97,266L626.83,305.4M626.99,312.7L627.88,353.4M627.95,356.8L628.89,399.6M629.05,407.2L630.03,452M628.81,266L629.72,305.4M629.89,312.7L630.83,353.4M630.91,356.8L631.90,399.6M632.08,407.2L633.11,452M631.65,266L632.61,305.4M632.79,312.7L633.78,353.4M633.87,356.8L634.91,399.6M635.10,407.2L636.20,452M634.49,266L635.50,305.4M635.69,312.7L636.74,353.4M636.83,356.8L637.93,399.6M638.12,407.2L639.28,452M637.33,266L638.39,305.4M638.59,312.7L639.69,353.4M639.78,356.8L640.94,399.6M641.15,407.2L642.36,452M640.17,266L641.29,305.4M641.49,312.7L642.65,353.4M642.74,356.8L643.96,399.6M644.17,407.2L645.44,452M643.01,266L644.18,305.4M644.40,312.7L645.60,353.4M645.70,356.8L646.97,399.6M647.20,407.2L648.52,452M645.85,266L647.07,305.4M647.30,312.7L648.56,353.4M648.66,356.8L649.98,399.6M650.22,407.2L651.60,452M648.69,266L649.96,305.4M650.20,312.7L651.51,353.4M651.62,356.8L653.00,399.6M653.24,407.2L654.69,452M651.53,266L652.85,305.4M653.10,312.7L654.46,353.4M654.58,356.8L656.01,399.6M656.27,407.2L657.77,452M654.38,266L655.75,305.4M656.00,312.7L657.42,353.4M657.54,356.8L659.03,399.6M659.29,407.2L660.85,452M657.22,266L658.64,305.4M658.90,312.7L660.37,353.4M660.49,356.8L662.04,399.6M662.31,407.2L663.93,452M660.06,266L661.53,305.4M661.80,312.7L663.33,353.4M663.45,356.8L665.05,399.6M665.34,407.2L667.01,452M662.90,266L664.42,305.4M664.70,312.7L666.28,353.4M666.41,356.8L668.07,399.6M668.36,407.2L670.10,452M665.74,266L667.31,305.4M667.61,312.7L669.23,353.4M669.37,356.8L671.08,399.6M671.39,407.2L673.18,452M668.58,266L670.21,305.4M670.51,312.7L672.19,353.4M672.33,356.8L674.10,399.6M674.41,407.2L676.26,452" stroke="#e2e0d8" stroke-width="1.75" fill="none" clip-path="url(#litclip)"/>
<g clip-path="url(#litclip)"><polygon points="344.00,266.00 404.00,266.00 401.99,305.40 340.23,305.40" fill="url(#ygB)"/>
<polygon points="339.53,312.70 401.61,312.70 399.54,353.40 335.64,353.40" fill="url(#ygB)"/>
<polygon points="335.31,356.80 399.36,356.80 397.18,399.60 331.21,399.60" fill="url(#ygB)"/>
<polygon points="330.49,407.20 396.79,407.20 394.50,452.00 326.20,452.00" fill="url(#ygB)"/>
<polygon points="408.00,266.00 471.00,266.00 469.86,305.40 405.84,305.40" fill="url(#ygB)"/>
<polygon points="405.44,312.70 469.64,312.70 468.46,353.40 403.21,353.40" fill="url(#ygB)"/>
<polygon points="403.02,356.80 468.36,356.80 467.12,399.60 400.67,399.60" fill="url(#ygB)"/>
<polygon points="400.26,407.20 466.90,407.20 465.60,452.00 397.80,452.00" fill="url(#ygB)"/>
<polygon points="474.30,266.00 537.30,266.00 536.96,305.40 473.16,305.40" fill="url(#ygB)"/>
<polygon points="472.94,312.70 536.90,312.70 536.55,353.40 471.76,353.40" fill="url(#ygB)"/>
<polygon points="471.66,356.80 536.52,356.80 536.15,399.60 470.42,399.60" fill="url(#ygB)"/>
<polygon points="470.20,407.20 536.09,407.20 535.70,452.00 468.90,452.00" fill="url(#ygB)"/>
<polygon points="540.80,266.00 603.80,266.00 604.31,305.40 540.46,305.40" fill="url(#ygB)"/>
<polygon points="540.40,312.70 604.40,312.70 604.93,353.40 540.05,353.40" fill="url(#ygB)"/>
<polygon points="540.02,356.80 604.97,356.80 605.52,399.60 539.65,399.60" fill="url(#ygB)"/>
<polygon points="539.59,407.20 605.62,407.20 606.20,452.00 539.20,452.00" fill="url(#ygB)"/>
<polygon points="607.50,266.00 670.00,266.00 671.65,305.40 608.03,305.40" fill="url(#ygB)"/>
<polygon points="608.13,312.70 671.96,312.70 673.67,353.40 608.67,353.40" fill="url(#ygB)"/>
<polygon points="608.72,356.80 673.81,356.80 675.60,399.60 609.30,399.60" fill="url(#ygB)"/>
<polygon points="609.40,407.20 675.92,407.20 677.80,452.00 610.00,452.00" fill="url(#ygB)"/></g>
</g>
<g id="arrows">
<defs>
<linearGradient id="agA" gradientUnits="userSpaceOnUse" x1="358.4" y1="198.6" x2="461" y2="285">
<stop offset="0" stop-color="#9c4a58" stop-opacity="0.18"/>
<stop offset="0.20" stop-color="#b04a56" stop-opacity="0.27"/>
<stop offset="0.38" stop-color="#d63c42" stop-opacity="0.5"/>
<stop offset="0.54" stop-color="#f02a2b" stop-opacity="0.76"/>
<stop offset="0.67" stop-color="#fd1c1c" stop-opacity="0.95"/>
<stop offset="0.77" stop-color="#ff1a1a" stop-opacity="1"/>
<stop offset="1" stop-color="#ff1a1a" stop-opacity="1"/>
</linearGradient>
<linearGradient id="agB" gradientUnits="userSpaceOnUse" x1="323.3" y1="255.5" x2="482" y2="331">
<stop offset="0" stop-color="#9c4a58" stop-opacity="0.18"/>
<stop offset="0.10" stop-color="#b04a56" stop-opacity="0.27"/>
<stop offset="0.28" stop-color="#d63c42" stop-opacity="0.5"/>
<stop offset="0.44" stop-color="#f02a2b" stop-opacity="0.76"/>
<stop offset="0.57" stop-color="#fd1c1c" stop-opacity="0.95"/>
<stop offset="0.67" stop-color="#ff1a1a" stop-opacity="1"/>
<stop offset="1" stop-color="#ff1a1a" stop-opacity="1"/>
</linearGradient>
<linearGradient id="agC" gradientUnits="userSpaceOnUse" x1="321.5" y1="420.2" x2="485.5" y2="347.5">
<stop offset="0" stop-color="#9c4a58" stop-opacity="0.18"/>
<stop offset="0.10" stop-color="#b04a56" stop-opacity="0.27"/>
<stop offset="0.28" stop-color="#d63c42" stop-opacity="0.5"/>
<stop offset="0.44" stop-color="#f02a2b" stop-opacity="0.76"/>
<stop offset="0.57" stop-color="#fd1c1c" stop-opacity="0.95"/>
<stop offset="0.67" stop-color="#ff1a1a" stop-opacity="1"/>
<stop offset="1" stop-color="#ff1a1a" stop-opacity="1"/>
</linearGradient>
<linearGradient id="agD" gradientUnits="userSpaceOnUse" x1="361.0" y1="479.8" x2="464" y2="394">
<stop offset="0" stop-color="#9c4a58" stop-opacity="0.18"/>
<stop offset="0.20" stop-color="#b04a56" stop-opacity="0.27"/>
<stop offset="0.38" stop-color="#d63c42" stop-opacity="0.5"/>
<stop offset="0.54" stop-color="#f02a2b" stop-opacity="0.76"/>
<stop offset="0.67" stop-color="#fd1c1c" stop-opacity="0.95"/>
<stop offset="0.77" stop-color="#ff1a1a" stop-opacity="1"/>
<stop offset="1" stop-color="#ff1a1a" stop-opacity="1"/>
</linearGradient>
<linearGradient id="agE" gradientUnits="userSpaceOnUse" x1="662.1" y1="197.3" x2="554.2" y2="275.5">
<stop offset="0" stop-color="#7a5a64" stop-opacity="0.2"/>
<stop offset="0.20" stop-color="#a04f5a" stop-opacity="0.28"/>
<stop offset="0.38" stop-color="#d63c42" stop-opacity="0.5"/>
<stop offset="0.54" stop-color="#f02a2b" stop-opacity="0.76"/>
<stop offset="0.67" stop-color="#fd1c1c" stop-opacity="0.95"/>
<stop offset="0.77" stop-color="#ff1a1a" stop-opacity="1"/>
<stop offset="1" stop-color="#ff1a1a" stop-opacity="1"/>
</linearGradient>
<linearGradient id="agF" gradientUnits="userSpaceOnUse" x1="681.0" y1="257.1" x2="517" y2="323.5">
<stop offset="0" stop-color="#7a5a64" stop-opacity="0.13"/>
<stop offset="0.20" stop-color="#a04f5a" stop-opacity="0.22"/>
<stop offset="0.38" stop-color="#d63c42" stop-opacity="0.5"/>
<stop offset="0.54" stop-color="#f02a2b" stop-opacity="0.76"/>
<stop offset="0.67" stop-color="#fd1c1c" stop-opacity="0.95"/>
<stop offset="0.77" stop-color="#ff1a1a" stop-opacity="1"/>
<stop offset="1" stop-color="#ff1a1a" stop-opacity="1"/>
</linearGradient>
<linearGradient id="agG" gradientUnits="userSpaceOnUse" x1="682.5" y1="415.2" x2="520.5" y2="356">
<stop offset="0" stop-color="#7a5a64" stop-opacity="0.13"/>
<stop offset="0.20" stop-color="#a04f5a" stop-opacity="0.22"/>
<stop offset="0.38" stop-color="#d63c42" stop-opacity="0.5"/>
<stop offset="0.54" stop-color="#f02a2b" stop-opacity="0.76"/>
<stop offset="0.67" stop-color="#fd1c1c" stop-opacity="0.95"/>
<stop offset="0.77" stop-color="#ff1a1a" stop-opacity="1"/>
<stop offset="1" stop-color="#ff1a1a" stop-opacity="1"/>
</linearGradient>
<linearGradient id="agH" gradientUnits="userSpaceOnUse" x1="665.4" y1="481.3" x2="557" y2="404">
<stop offset="0" stop-color="#7a5a64" stop-opacity="0.2"/>
<stop offset="0.20" stop-color="#a04f5a" stop-opacity="0.28"/>
<stop offset="0.38" stop-color="#d63c42" stop-opacity="0.5"/>
<stop offset="0.54" stop-color="#f02a2b" stop-opacity="0.76"/>
<stop offset="0.67" stop-color="#fd1c1c" stop-opacity="0.95"/>
<stop offset="0.77" stop-color="#ff1a1a" stop-opacity="1"/>
<stop offset="1" stop-color="#ff1a1a" stop-opacity="1"/>
</linearGradient>
</defs>
<path d="M369.2,189.1C371.5,190.6 378.8,195.3 383.2,198.2C387.6,201.1 391.6,203.6 395.8,206.6C400.0,209.6 404.2,212.9 408.4,216.4C412.6,219.9 416.8,223.2 421.0,227.6C425.2,232.0 429.8,238.3 433.6,243.0C437.4,247.7 441.1,252.3 444.0,256.0C446.9,259.7 449.0,262.0 451.0,265.0C453.0,268.0 454.3,270.7 456.0,274.0C457.7,277.3 460.2,283.2 461.0,285.0L437,271L444.5,268.5C443.1,267.1 439.1,263.4 436.0,260.0C432.9,256.6 429.7,252.2 426.0,248.0C422.3,243.8 418.3,238.9 414.0,234.6C409.7,230.3 404.7,225.5 400.0,222.0C395.3,218.5 390.7,215.6 386.0,213.6C381.3,211.6 376.3,210.9 372.0,210.1C367.7,209.2 364.1,208.8 360.0,208.5C355.9,208.2 349.6,208.1 347.5,208.0Q360.4,205.8 373.4,204.5Q371.3,196.8 369.2,189.1Z" fill="url(#agA)"/>
<path d="M333.6,240C337.0,241.0 347.6,244.2 354.0,246.0C360.4,247.8 366.0,248.9 372.0,251.0C378.0,253.1 384.8,256.2 390.0,258.5C395.2,260.8 398.8,262.8 403.0,265.0C407.2,267.2 410.5,269.2 415.0,272.0C419.5,274.8 425.0,278.2 430.0,282.0C435.0,285.8 440.0,290.5 445.0,295.0C450.0,299.5 455.5,304.8 460.0,309.0C464.5,313.2 468.3,316.3 472.0,320.0C475.7,323.7 480.3,329.2 482.0,331.0L446.5,321.5L456,316.5C453.8,314.9 447.3,310.2 443.0,307.0C438.7,303.8 434.7,300.7 430.0,297.5C425.3,294.3 420.7,291.2 415.0,288.0C409.3,284.8 402.2,281.2 396.0,278.0C389.8,274.8 384.0,271.4 378.0,269.0C372.0,266.6 366.0,264.5 360.0,263.5C354.0,262.5 348.0,262.6 342.0,263.0C336.0,263.4 328.8,264.7 324.0,266.0C319.2,267.3 314.8,270.2 313.0,271.0Q325.5,263.5 338,257Q335.8,248.5 333.6,240Z" fill="url(#agB)"/>
<path d="M330,436C333.3,436.2 344.2,437.6 350.0,437.0C355.8,436.4 360.0,434.4 365.0,432.5C370.0,430.6 374.2,428.2 380.0,425.5C385.8,422.8 393.3,419.1 400.0,416.0C406.7,412.9 414.2,410.0 420.0,407.0C425.8,404.0 430.3,401.0 435.0,398.0C439.7,395.0 443.8,392.2 448.0,389.0C452.2,385.8 456.3,382.3 460.0,379.0C463.7,375.7 467.0,372.3 470.0,369.0C473.0,365.7 475.4,362.6 478.0,359.0C480.6,355.4 484.2,349.4 485.5,347.5L450,357L459,363C457.5,364.2 453.5,367.5 450.0,370.0C446.5,372.5 442.2,375.3 438.0,378.0C433.8,380.7 429.7,383.3 425.0,386.0C420.3,388.7 414.2,391.8 410.0,394.0C405.8,396.2 404.2,397.7 400.0,399.5C395.8,401.3 390.0,403.6 385.0,405.0C380.0,406.4 375.8,407.2 370.0,408.0C364.2,408.8 356.7,409.8 350.0,410.0C343.3,410.2 336.2,409.9 330.0,409.0C323.8,408.1 315.8,405.2 313.0,404.5Q329.0,412.2 345,421Q337.5,428.5 330,436Z" fill="url(#agC)"/>
<path d="M372,489.5C374.2,488.4 380.3,485.8 385.0,483.0C389.7,480.2 395.5,476.3 400.0,473.0C404.5,469.7 407.8,466.8 412.0,463.0C416.2,459.2 421.3,453.8 425.0,450.0C428.7,446.2 430.8,443.3 434.0,440.0C437.2,436.7 441.7,432.5 444.0,430.0C446.3,427.5 446.2,427.5 448.0,425.0C449.8,422.5 453.0,418.3 455.0,415.0C457.0,411.7 458.5,408.5 460.0,405.0C461.5,401.5 463.3,395.8 464.0,394.0L440.5,407.5L447,410C446.3,411.3 444.5,415.5 443.0,418.0C441.5,420.5 439.7,423.0 438.0,425.0C436.3,427.0 436.0,427.5 433.0,430.0C430.0,432.5 423.8,436.8 420.0,440.0C416.2,443.2 414.0,445.8 410.0,449.0C406.0,452.2 400.2,456.3 396.0,459.0C391.8,461.7 389.3,463.5 385.0,465.0C380.7,466.5 375.8,467.2 370.0,468.0C364.2,468.8 353.3,469.7 350.0,470.0Q363.5,471.5 377,474Q374.5,481.8 372,489.5Z" fill="url(#agD)"/>
<path d="M651.7,186.8C649.3,188.2 642.1,192.4 637.5,195.0C632.9,197.6 628.5,199.6 624.0,202.5C619.5,205.4 614.8,208.7 610.5,212.2C606.2,215.7 602.3,219.7 598.5,223.5C594.7,227.3 591.1,231.1 587.5,234.8C583.9,238.6 580.2,242.4 577.0,246.0C573.8,249.6 570.8,253.2 568.0,256.5C565.2,259.8 562.8,262.3 560.5,265.5C558.2,268.7 555.2,273.8 554.2,275.5L578.5,263L573,260.5C574.7,259.6 579.8,257.2 583.0,255.0C586.2,252.8 588.7,250.0 592.0,247.0C595.3,244.0 599.2,240.3 603.0,237.0C606.8,233.7 611.0,230.2 615.0,227.0C619.0,223.8 623.2,220.5 627.0,218.0C630.8,215.5 634.0,213.7 637.5,212.2C641.0,210.7 644.2,209.8 648.0,209.0C651.8,208.2 655.9,207.8 660.0,207.6C664.1,207.4 670.4,207.8 672.5,207.8Q658.8,203.5 645,200.2Q648.4,193.5 651.7,186.8Z" fill="url(#agE)"/>
<path d="M672,242.2C670.0,242.6 664.5,243.6 660.0,244.5C655.5,245.4 650.0,246.2 645.0,247.5C640.0,248.8 635.0,250.2 630.0,252.0C625.0,253.8 620.0,255.9 615.0,258.0C610.0,260.1 605.0,262.2 600.0,264.5C595.0,266.8 590.0,269.3 585.0,272.0C580.0,274.7 575.0,277.5 570.0,280.5C565.0,283.5 560.0,286.8 555.0,290.0C550.0,293.2 544.5,296.7 540.0,300.0C535.5,303.3 531.8,306.1 528.0,310.0C524.2,313.9 518.8,321.2 517.0,323.5L553.5,315.5L545.5,309C547.6,307.5 553.9,302.7 558.0,300.0C562.1,297.3 565.5,295.4 570.0,293.0C574.5,290.6 580.0,288.1 585.0,285.5C590.0,282.9 595.0,280.1 600.0,277.5C605.0,274.9 610.0,272.2 615.0,270.0C620.0,267.8 625.0,265.8 630.0,264.5C635.0,263.2 640.0,262.6 645.0,262.5C650.0,262.4 654.8,263.2 660.0,264.0C665.2,264.8 671.0,266.2 676.0,267.5C681.0,268.8 687.7,271.2 690.0,272.0Q679.0,263.5 668,256Q670.0,249.1 672,242.2Z" fill="url(#agF)"/>
<path d="M672,428C669.7,427.7 663.8,426.7 658.0,426.2C652.2,425.7 644.0,425.7 637.0,424.8C630.0,423.9 622.2,422.6 616.0,420.6C609.8,418.6 604.3,414.9 600.0,413.0C595.7,411.1 594.2,410.8 590.0,409.0C585.8,407.2 579.7,404.5 575.0,402.0C570.3,399.5 566.2,396.7 562.0,394.0C557.8,391.3 553.7,388.7 550.0,386.0C546.3,383.3 543.3,381.0 540.0,378.0C536.7,375.0 533.2,371.7 530.0,368.0C526.8,364.3 522.1,358.0 520.5,356.0L557,363.5L548,370C550.0,371.5 555.5,376.0 560.0,379.0C564.5,382.0 570.0,385.3 575.0,388.0C580.0,390.7 585.8,393.2 590.0,395.0C594.2,396.8 596.8,397.5 600.0,399.0C603.2,400.5 604.0,402.5 609.0,403.8C614.0,405.1 623.0,406.1 630.0,406.6C637.0,407.1 644.0,407.0 651.0,406.6C658.0,406.2 665.0,405.2 672.0,404.5C679.0,403.8 689.5,402.8 693.0,402.4Q677.5,408.2 662,415Q667.0,421.5 672,428Z" fill="url(#agG)"/>
<path d="M655,491.7C651.7,490.1 641.1,485.1 635.4,482.0C629.7,478.9 625.4,475.7 621.0,472.8C616.6,469.9 612.5,467.2 608.8,464.4C605.1,461.6 602.4,458.9 599.0,456.0C595.6,453.1 592.3,450.5 588.6,446.8C584.9,443.1 580.7,438.4 577.0,433.8C573.3,429.2 569.8,424.5 566.5,419.5C563.2,414.5 558.6,406.6 557.0,404.0L581.8,415.3L575.6,418.5C577.3,420.4 582.5,426.1 586.0,430.0C589.5,433.9 592.9,437.9 596.4,441.6C599.9,445.3 603.1,449.0 606.8,452.0C610.5,455.0 614.2,457.7 618.5,459.8C622.8,461.9 627.4,462.9 632.8,464.4C638.2,465.9 645.8,467.9 651.0,469.0C656.2,470.1 659.9,470.6 664.0,470.9C668.1,471.2 673.8,470.9 675.7,470.9Q660.8,473.9 645.8,478Q650.4,484.9 655,491.7Z" fill="url(#agH)"/>

</g>
<g id="battery">
<defs>
<clipPath id="bodyclip"><path d="M410,686 V942 A102,19.7 0 0 0 614,942 V686 Z"/></clipPath>
<linearGradient id="glassH" x1="410" x2="614" y1="0" y2="0" gradientUnits="userSpaceOnUse">
<stop offset="0" stop-color="#2a342c"/><stop offset="0.04" stop-color="#101410"/><stop offset="0.15" stop-color="#060806"/>
<stop offset="0.22" stop-color="#141c14"/><stop offset="0.4" stop-color="#20401c"/><stop offset="0.52" stop-color="#25501f"/>
<stop offset="0.7" stop-color="#182c16"/><stop offset="0.86" stop-color="#141a14"/><stop offset="0.95" stop-color="#1e261e"/><stop offset="1" stop-color="#364236"/>
</linearGradient>
<radialGradient id="glassV" cx="516" cy="806" r="100" gradientUnits="userSpaceOnUse" gradientTransform="translate(516 806) scale(1 0.95) translate(-516 -806)">
<stop offset="0" stop-color="#6cf038" stop-opacity="0.95"/><stop offset="0.3" stop-color="#5fe430" stop-opacity="0.75"/>
<stop offset="0.6" stop-color="#48c826" stop-opacity="0.35"/><stop offset="1" stop-color="#38a81e" stop-opacity="0"/>
</radialGradient>
<linearGradient id="liqH" x1="410" x2="614" y1="0" y2="0" gradientUnits="userSpaceOnUse">
<stop offset="0" stop-color="#1fae12"/><stop offset="0.04" stop-color="#3add20"/><stop offset="0.18" stop-color="#48ea28"/>
<stop offset="0.36" stop-color="#36d81e"/><stop offset="0.40" stop-color="#1d9612"/><stop offset="0.5" stop-color="#188a10"/><stop offset="0.6" stop-color="#1d9812"/>
<stop offset="0.76" stop-color="#30cc1c"/><stop offset="0.86" stop-color="#42e626"/><stop offset="0.96" stop-color="#32d01c"/><stop offset="1" stop-color="#16900c"/>
</linearGradient>
<linearGradient id="liqV" x1="0" x2="0" y1="790" y2="962" gradientUnits="userSpaceOnUse">
<stop offset="0" stop-color="#a0ff50" stop-opacity="0.35"/><stop offset="0.25" stop-color="#60ff30" stop-opacity="0.05"/>
<stop offset="0.7" stop-color="#0a5a08" stop-opacity="0.08"/><stop offset="1" stop-color="#0a5a08" stop-opacity="0.3"/>
</linearGradient>
<linearGradient id="surfG" x1="0" x2="0" y1="773" y2="803" gradientUnits="userSpaceOnUse">
<stop offset="0" stop-color="#3fae26"/><stop offset="0.5" stop-color="#7ddc48"/><stop offset="1" stop-color="#b4f47c"/>
</linearGradient>
<linearGradient id="capSide" x1="410" x2="614" y1="0" y2="0" gradientUnits="userSpaceOnUse">
<stop offset="0" stop-color="#6a706a"/><stop offset="0.04" stop-color="#3c403c"/><stop offset="0.15" stop-color="#2c2f2c"/>
<stop offset="0.175" stop-color="#a4aaa4"/><stop offset="0.275" stop-color="#b8beb8"/><stop offset="0.285" stop-color="#e6eae6"/>
<stop offset="0.38" stop-color="#dde4dd"/><stop offset="0.395" stop-color="#b2c2b4"/><stop offset="0.55" stop-color="#b6c6b8"/>
<stop offset="0.76" stop-color="#b4c0b4"/><stop offset="0.8" stop-color="#d2d8d2"/><stop offset="0.87" stop-color="#a0a5a0"/>
<stop offset="0.91" stop-color="#4c504c"/><stop offset="0.97" stop-color="#5a5e5a"/><stop offset="1" stop-color="#8a8f8a"/>
</linearGradient>
<linearGradient id="capTop" x1="410" x2="614" y1="0" y2="0" gradientUnits="userSpaceOnUse">
<stop offset="0" stop-color="#c4c7c6"/><stop offset="0.25" stop-color="#e6e8e7"/><stop offset="0.6" stop-color="#f4f5f5"/><stop offset="1" stop-color="#d0d3d2"/>
</linearGradient>
<linearGradient id="recess" x1="432" x2="593" y1="676" y2="697" gradientUnits="userSpaceOnUse">
<stop offset="0" stop-color="#80878c"/><stop offset="0.45" stop-color="#9aa0a4"/><stop offset="1" stop-color="#c6cbcc"/>
</linearGradient>
<linearGradient id="nubSide" x1="473" x2="544.3" y1="0" y2="0" gradientUnits="userSpaceOnUse">
<stop offset="0" stop-color="#50575c"/><stop offset="0.08" stop-color="#2b3034"/><stop offset="0.25" stop-color="#697177"/>
<stop offset="0.4" stop-color="#e8ecec"/><stop offset="0.5" stop-color="#f8fafa"/><stop offset="0.62" stop-color="#aab1b5"/>
<stop offset="0.78" stop-color="#4f565b"/><stop offset="0.92" stop-color="#30353a"/><stop offset="1" stop-color="#6a7176"/>
</linearGradient>
<linearGradient id="nubTop" x1="473" x2="544.3" y1="668" y2="678" gradientUnits="userSpaceOnUse">
<stop offset="0" stop-color="#9aa4a8"/><stop offset="0.5" stop-color="#6f7a80"/><stop offset="1" stop-color="#aab4b8"/>
</linearGradient>
<linearGradient id="botCap" x1="410" x2="614" y1="0" y2="0" gradientUnits="userSpaceOnUse">
<stop offset="0" stop-color="#34343a"/><stop offset="0.04" stop-color="#17171b"/><stop offset="0.165" stop-color="#202024"/>
<stop offset="0.175" stop-color="#a9a9ae"/><stop offset="0.29" stop-color="#c4c4c8"/><stop offset="0.3" stop-color="#eeeeee"/>
<stop offset="0.42" stop-color="#fbfbfb"/><stop offset="0.53" stop-color="#d8d8da"/><stop offset="0.55" stop-color="#a9a9ad"/>
<stop offset="0.75" stop-color="#6c6c71"/><stop offset="0.77" stop-color="#2c2c31"/><stop offset="0.9" stop-color="#26262b"/>
<stop offset="0.92" stop-color="#56565b"/><stop offset="1" stop-color="#707075"/>
</linearGradient>
<linearGradient id="boltDark" x1="0" x2="0" y1="791" y2="850" gradientUnits="userSpaceOnUse">
<stop offset="0" stop-color="#1c5a16" stop-opacity="0.55"/><stop offset="1" stop-color="#123e0e" stop-opacity="0.8"/>
</linearGradient>
<linearGradient id="reflG" x1="0" x2="0" y1="962" y2="1000" gradientUnits="userSpaceOnUse">
<stop offset="0" stop-color="#7fd080" stop-opacity="0.35"/><stop offset="1" stop-color="#bfe8c0" stop-opacity="0"/>
</linearGradient>
<filter id="b1" x="-20%" y="-60%" width="140%" height="220%"><feGaussianBlur stdDeviation="1.6"/></filter>
<filter id="b2" x="-20%" y="-60%" width="140%" height="220%"><feGaussianBlur stdDeviation="3.2"/></filter>
<filter id="b3" x="-20%" y="-80%" width="140%" height="260%"><feGaussianBlur stdDeviation="7"/></filter>
<filter id="bb" x="-50%" y="-100%" width="200%" height="300%"><feGaussianBlur stdDeviation="2.2"/></filter>
<clipPath id="outclip"><rect x="300" y="690" width="110" height="300"/><rect x="614" y="690" width="110" height="300"/></clipPath>
<clipPath id="r2clip"><rect x="340" y="800" width="70" height="90"/><rect x="614" y="800" width="70" height="90"/><rect x="340" y="843" width="344" height="50"/></clipPath>
<clipPath id="r3clip"><rect x="340" y="855" width="70" height="95"/><rect x="614" y="855" width="70" height="95"/><rect x="340" y="900" width="344" height="55"/></clipPath>
<clipPath id="r2clipG"><rect x="330" y="790" width="80" height="110"/><rect x="614" y="790" width="80" height="110"/><rect x="330" y="846" width="364" height="60"/></clipPath>
<clipPath id="r3clipG"><rect x="330" y="845" width="80" height="115"/><rect x="614" y="845" width="80" height="115"/><rect x="330" y="903" width="364" height="60"/></clipPath>
<linearGradient id="band1" x1="0" x2="0" y1="686" y2="976" gradientUnits="userSpaceOnUse">
<stop offset="0" stop-color="#fff" stop-opacity="0.42"/><stop offset="0.33" stop-color="#fff" stop-opacity="0.38"/><stop offset="0.38" stop-color="#fff" stop-opacity="0.17"/><stop offset="1" stop-color="#fff" stop-opacity="0.17"/>
</linearGradient>
<linearGradient id="band2" x1="0" x2="0" y1="686" y2="976" gradientUnits="userSpaceOnUse">
<stop offset="0" stop-color="#fff" stop-opacity="0.85"/><stop offset="0.3" stop-color="#f4fff0" stop-opacity="0.72"/><stop offset="0.38" stop-color="#fff" stop-opacity="0.42"/><stop offset="1" stop-color="#fff" stop-opacity="0.36"/>
</linearGradient>
</defs>
<!-- reflection under battery -->
<path d="M414,953 A98,19.8 0 0 0 610,953 V1000 H414 Z" fill="url(#reflG)" filter="url(#b2)" opacity="0.7"/>
<!-- bottom cap -->
<path d="M410,940 V953.5 A102,19.8 0 0 0 614,953.5 V940 Z" fill="url(#botCap)"/>
<path d="M410,941.5 A102,19.7 0 0 0 614,941.5" fill="none" stroke="#e8f4e8" stroke-width="1.2" opacity="0.0"/>
<!-- body -->
<g clip-path="url(#bodyclip)">
<rect x="410" y="686" width="204" height="110" fill="url(#glassH)"/>
<rect x="410" y="686" width="204" height="110" fill="url(#glassV)"/>
<rect x="410" y="788" width="204" height="180" fill="url(#liqH)"/>
<rect x="410" y="788" width="204" height="180" fill="url(#liqV)"/>
<!-- bottom seen through liquid -->
<ellipse cx="512" cy="926" rx="97" ry="18" fill="#4aea30" opacity="0.75"/>
<ellipse cx="512" cy="930" rx="72" ry="9.5" fill="#1c8a18" opacity="0.85"/>
<ellipse cx="512" cy="944" rx="99" ry="17" fill="none" stroke="#1a8a14" stroke-width="3" opacity="0.5"/>
<!-- liquid surface -->
<ellipse cx="512" cy="788" rx="102" ry="15" fill="url(#surfG)"/>
<path d="M410,788 A102,15 0 0 0 614,788" fill="none" stroke="#e0ffc8" stroke-width="1.3" opacity="0.85"/>
<!-- bolt -->
<polygon points="512.6,738 476.6,796 512.6,796" fill="#b9d8b0" opacity="0.5"/>
<polygon points="512.6,791 545,791 512.6,849" fill="url(#boltDark)"/>
<line x1="545" y1="791" x2="512.6" y2="849" stroke="#5fe040" stroke-width="0.8" opacity="0.8"/>
<!-- reflections -->
<rect x="445.5" y="686" width="21.5" height="290" fill="url(#band1)"/>
<rect x="467" y="686" width="22" height="290" fill="url(#band2)"/>
<rect x="566" y="686" width="28" height="290" fill="#fff" opacity="0.1"/>
<!-- bubbles -->
<g fill="rgba(235,255,200,0.13)" stroke="rgba(225,255,205,0.45)" stroke-width="0.8">
<circle cx="428" cy="806" r="7"/><circle cx="443" cy="814" r="3.5"/><circle cx="438" cy="826" r="3.2"/><circle cx="455" cy="821" r="4.6"/>
<circle cx="458" cy="832" r="3"/><circle cx="446" cy="838" r="2.2"/><circle cx="446" cy="850" r="2"/><circle cx="465" cy="845" r="2"/>
<circle cx="470" cy="810" r="3.5"/><circle cx="548" cy="811" r="3"/><circle cx="562" cy="808" r="4.2"/><circle cx="567" cy="820" r="4"/>
<circle cx="577" cy="818" r="3.6"/><circle cx="589" cy="810" r="3.8"/><circle cx="545" cy="821" r="2.4"/><circle cx="586" cy="830" r="1.8"/>
<circle cx="600" cy="815" r="3"/><circle cx="506" cy="889" r="6"/><circle cx="524" cy="900" r="6.4"/><circle cx="527" cy="877" r="3.6"/>
<circle cx="535" cy="856" r="2.6"/><circle cx="518" cy="924" r="5.6"/><circle cx="532" cy="926" r="3.6"/><circle cx="503" cy="926" r="3"/>
</g>
</g>
<path d="M410.5,942 A101.5,19.7 0 0 0 613.5,942" fill="none" stroke="#e6f2e6" stroke-width="1.1" opacity="0.85"/>
<!-- top cap side -->
<path d="M410,685.6 V706.5 A102,17.4 0 0 0 614,706.5 V685.6 Z" fill="url(#capSide)"/>
<path d="M410,706.5 A102,17.4 0 0 0 614,706.5" fill="none" stroke="#58e048" stroke-width="1.3"/>
<!-- top cap rim + top -->
<ellipse cx="512.2" cy="688.6" rx="102.4" ry="17.4" fill="#c9cdca"/>
<ellipse cx="512.2" cy="685.6" rx="102.4" ry="17.4" fill="url(#capTop)"/>
<path d="M409.8,685.6 A102.4,17.4 0 0 0 614.6,685.6" fill="none" stroke="#ffffff" stroke-width="1.4" opacity="0.9"/>
<ellipse cx="512.6" cy="686.2" rx="80.4" ry="10.8" fill="url(#recess)"/>
<!-- nub -->
<ellipse cx="510" cy="686.5" rx="44" ry="6" fill="#5a6064" opacity="0.55" filter="url(#b1)"/>
<path d="M473,672.6 V682.8 A35.6,5.2 0 0 0 544.3,682.8 V672.6 Z" fill="url(#nubSide)"/>
<ellipse cx="508.65" cy="672.6" rx="35.65" ry="5.2" fill="url(#nubTop)"/>
<path d="M473,672.6 A35.65,5.2 0 0 0 544.3,672.6" fill="none" stroke="#dfe5e6" stroke-width="0.9" opacity="0.8"/>
<!-- rings -->
<g fill="none">
<g id="ring1">
<g clip-path="url(#outclip)"><ellipse cx="509" cy="750.7" rx="139" ry="36.3" stroke="#36e6a0" stroke-width="22" opacity="0.5" filter="url(#b3)"/></g>
<ellipse cx="509" cy="750.7" rx="139" ry="36.3" stroke="#36e6a0" stroke-width="14" opacity="0.22" filter="url(#b3)"/>
<ellipse cx="509" cy="750.7" rx="138" ry="36.3" stroke="#45eaaa" stroke-width="9" opacity="0.85" filter="url(#b2)"/>
<ellipse cx="509" cy="750.7" rx="140" ry="36.5" stroke="#fff" stroke-width="4" filter="url(#b1)"/>
<ellipse cx="509" cy="750.7" rx="140.5" ry="36.3" stroke="#fff" stroke-width="2"/>
<ellipse cx="510" cy="750.7" rx="136" ry="35.6" stroke="#fff" stroke-width="1.2" opacity="0.9"/>
<ellipse cx="511" cy="750.9" rx="131" ry="35" stroke="#dcc8ee" stroke-width="1" opacity="0.9"/>
<ellipse cx="512" cy="751" rx="128.5" ry="34.6" stroke="#fff" stroke-width="1.3" opacity="0.95"/>
</g>
<g id="ring2">
<g clip-path="url(#r2clipG)">
<g clip-path="url(#outclip)"><ellipse cx="509" cy="841.5" rx="139" ry="32.7" stroke="#36e6a0" stroke-width="22" opacity="0.5" filter="url(#b3)"/></g>
<ellipse cx="509" cy="841.5" rx="139" ry="32.7" stroke="#36e6a0" stroke-width="14" opacity="0.22" filter="url(#b3)"/>
<ellipse cx="509" cy="841.5" rx="138" ry="32.7" stroke="#45eaaa" stroke-width="9" opacity="0.85" filter="url(#b2)"/>
</g>
<g clip-path="url(#r2clip)">
<ellipse cx="509" cy="841.5" rx="140" ry="32.9" stroke="#fff" stroke-width="4" filter="url(#b1)"/>
<ellipse cx="509" cy="841.5" rx="140.5" ry="32.7" stroke="#fff" stroke-width="2"/>
<ellipse cx="510" cy="841.5" rx="136" ry="32.1" stroke="#fff" stroke-width="1.2" opacity="0.9"/>
<ellipse cx="511" cy="841.7" rx="131" ry="31.5" stroke="#dcc8ee" stroke-width="1" opacity="0.9"/>
<ellipse cx="512" cy="841.8" rx="128.5" ry="31.1" stroke="#fff" stroke-width="1.3" opacity="0.95"/>
</g>
</g>
<g id="ring3">
<g clip-path="url(#r3clipG)">
<g clip-path="url(#outclip)"><ellipse cx="509" cy="898.5" rx="139" ry="33.2" stroke="#36e6a0" stroke-width="22" opacity="0.5" filter="url(#b3)"/></g>
<ellipse cx="509" cy="898.5" rx="139" ry="33.2" stroke="#36e6a0" stroke-width="14" opacity="0.22" filter="url(#b3)"/>
<ellipse cx="509" cy="898.5" rx="138" ry="33.2" stroke="#45eaaa" stroke-width="9" opacity="0.85" filter="url(#b2)"/>
</g>
<g clip-path="url(#r3clip)">
<ellipse cx="509" cy="898.5" rx="140" ry="33.4" stroke="#fff" stroke-width="4" filter="url(#b1)"/>
<ellipse cx="509" cy="898.5" rx="140.5" ry="33.2" stroke="#fff" stroke-width="2"/>
<ellipse cx="510" cy="898.5" rx="136" ry="32.6" stroke="#fff" stroke-width="1.2" opacity="0.9"/>
<ellipse cx="511" cy="898.7" rx="131" ry="32" stroke="#dcc8ee" stroke-width="1" opacity="0.9"/>
<ellipse cx="512" cy="898.8" rx="128.5" ry="31.6" stroke="#fff" stroke-width="1.3" opacity="0.95"/>
</g>
</g>
</g>
<!-- bright blobs -->
<ellipse cx="446" cy="782.5" rx="16" ry="5.2" fill="#fff" filter="url(#bb)"/><ellipse cx="446" cy="782.5" rx="11" ry="3.4" fill="#fff" filter="url(#b1)"/>
<ellipse cx="447.5" cy="873" rx="16" ry="5.2" fill="#fff" filter="url(#bb)"/><ellipse cx="447.5" cy="873" rx="11" ry="3.4" fill="#fff" filter="url(#b1)"/>
<ellipse cx="448" cy="929" rx="16" ry="5.2" fill="#fff" filter="url(#bb)"/><ellipse cx="448" cy="929" rx="11" ry="3.4" fill="#fff" filter="url(#b1)"/>

</g>
</svg>
<span class="w" style="left:81.60px;top:44.5px;font:italic bold 35.8px 'Liberation Sans',sans-serif;color:#F28D20;transform:scaleX(0.9681);-webkit-text-stroke:2.1px #F28D20;letter-spacing:1.3px;">HIGH</span>
<span class="w" style="left:185.50px;top:44.5px;font:italic bold 35.8px 'Liberation Sans',sans-serif;color:#F28D20;transform:scaleX(0.9013);-webkit-text-stroke:2.1px #F28D20;letter-spacing:1.3px;">EFFICIENCY</span>
<span class="w" style="left:404.00px;top:44.5px;font:italic bold 35.8px 'Liberation Sans',sans-serif;color:#F28D20;transform:scaleX(0.8929);-webkit-text-stroke:2.1px #F28D20;letter-spacing:1.3px;">PHOTOELECTRIC</span>
<span class="w" style="left:705.56px;top:44.5px;font:italic bold 35.8px 'Liberation Sans',sans-serif;color:#F28D20;transform:scaleX(0.9369);-webkit-text-stroke:2.1px #F28D20;letter-spacing:1.3px;">CONVERSION</span>
<span class="w" style="left:153.43px;top:98.6px;font:bold 18px 'Liberation Sans',sans-serif;color:#111;transform:scaleX(1.0658);-webkit-text-stroke:0.6px #111;">High</span>
<span class="w" style="left:202.00px;top:98.6px;font:bold 18px 'Liberation Sans',sans-serif;color:#111;transform:scaleX(1.0965);-webkit-text-stroke:0.6px #111;">crystal</span>
<span class="w" style="left:271.75px;top:98.6px;font:bold 18px 'Liberation Sans',sans-serif;color:#111;transform:scaleX(1.0491);-webkit-text-stroke:0.6px #111;">silicon</span>
<span class="w" style="left:337.50px;top:98.6px;font:bold 18px 'Liberation Sans',sans-serif;color:#111;transform:scaleX(1.0000);-webkit-text-stroke:0.6px #111;">solar</span>
<span class="w" style="left:390.00px;top:98.6px;font:bold 18px 'Liberation Sans',sans-serif;color:#111;transform:scaleX(1.0667);-webkit-text-stroke:0.6px #111;">charging</span>
<span class="w" style="left:475.88px;top:98.6px;font:bold 18px 'Liberation Sans',sans-serif;color:#111;transform:scaleX(1.1179);-webkit-text-stroke:0.6px #111;">board,</span>
<span class="w" style="left:542.50px;top:98.6px;font:bold 18px 'Liberation Sans',sans-serif;color:#111;transform:scaleX(1.1058);-webkit-text-stroke:0.6px #111;">full</span>
<span class="w" style="left:579.25px;top:98.6px;font:bold 18px 'Liberation Sans',sans-serif;color:#111;transform:scaleX(0.9861);-webkit-text-stroke:0.6px #111;">of</span>
<span class="w" style="left:603.75px;top:98.6px;font:bold 18px 'Liberation Sans',sans-serif;color:#111;transform:scaleX(1.0357);-webkit-text-stroke:0.6px #111;">6-11</span>
<span class="w" style="left:646.91px;top:98.6px;font:bold 18px 'Liberation Sans',sans-serif;color:#111;transform:scaleX(1.0867);-webkit-text-stroke:0.6px #111;">hours</span>
<span class="w" style="left:707.68px;top:98.6px;font:bold 18px 'Liberation Sans',sans-serif;color:#111;transform:scaleX(1.0714);-webkit-text-stroke:0.6px #111;">in</span>
<span class="w" style="left:730.75px;top:98.6px;font:bold 18px 'Liberation Sans',sans-serif;color:#111;transform:scaleX(1.0472);-webkit-text-stroke:0.6px #111;">sunny</span>
<span class="w" style="left:792.50px;top:98.6px;font:bold 18px 'Liberation Sans',sans-serif;color:#111;transform:scaleX(1.1544);-webkit-text-stroke:0.6px #111;">weather</span>
<span class="w" style="left:119.50px;top:583.5px;font:italic bold 35.8px 'Liberation Sans',sans-serif;color:#F28D20;transform:scaleX(1.0157);-webkit-text-stroke:2.1px #F28D20;letter-spacing:1.3px;">BUILT-IN</span>
<span class="w" style="left:291.30px;top:583.5px;font:italic bold 35.8px 'Liberation Sans',sans-serif;color:#F28D20;transform:scaleX(0.9186);-webkit-text-stroke:2.1px #F28D20;letter-spacing:1.3px;">LARGE-CAPACITY</span>
<span class="w" style="left:610.00px;top:583.5px;font:italic bold 35.8px 'Liberation Sans',sans-serif;color:#F28D20;transform:scaleX(0.9909);-webkit-text-stroke:2.1px #F28D20;letter-spacing:1.3px;">LITHIUM</span>
<span class="w" style="left:774.60px;top:583.5px;font:italic bold 35.8px 'Liberation Sans',sans-serif;color:#F28D20;transform:scaleX(0.9107);-webkit-text-stroke:2.1px #F28D20;letter-spacing:1.3px;">BATTERY</span>
<span class="w" style="left:259.93px;top:637px;font:bold 18px 'Liberation Sans',sans-serif;color:#111;transform:scaleX(1.3250);-webkit-text-stroke:0.6px #111;">It</span>
<span class="w" style="left:280.75px;top:637px;font:bold 18px 'Liberation Sans',sans-serif;color:#111;transform:scaleX(1.0750);-webkit-text-stroke:0.6px #111;">can</span>
<span class="w" style="left:319.46px;top:637px;font:bold 18px 'Liberation Sans',sans-serif;color:#111;transform:scaleX(1.0375);-webkit-text-stroke:0.6px #111;">be</span>
<span class="w" style="left:346.95px;top:637px;font:bold 18px 'Liberation Sans',sans-serif;color:#111;transform:scaleX(1.0500);-webkit-text-stroke:0.6px #111;">used</span>
<span class="w" style="left:397.00px;top:637px;font:bold 18px 'Liberation Sans',sans-serif;color:#111;transform:scaleX(1.1146);-webkit-text-stroke:0.6px #111;">for</span>
<span class="w" style="left:430.75px;top:637px;font:bold 18px 'Liberation Sans',sans-serif;color:#111;transform:scaleX(1.0096);-webkit-text-stroke:0.6px #111;">5-6</span>
<span class="w" style="left:463.43px;top:637px;font:bold 18px 'Liberation Sans',sans-serif;color:#111;transform:scaleX(1.0663);-webkit-text-stroke:0.6px #111;">hours</span>
<span class="w" style="left:523.75px;top:637px;font:bold 18px 'Liberation Sans',sans-serif;color:#111;transform:scaleX(1.0833);-webkit-text-stroke:0.6px #111;">when</span>
<span class="w" style="left:579.50px;top:637px;font:bold 18px 'Liberation Sans',sans-serif;color:#111;transform:scaleX(1.1081);-webkit-text-stroke:0.6px #111;">fully</span>
<span class="w" style="left:628.00px;top:637px;font:bold 18px 'Liberation Sans',sans-serif;color:#111;transform:scaleX(1.0725);-webkit-text-stroke:0.6px #111;">charged</span>
</body></html>
